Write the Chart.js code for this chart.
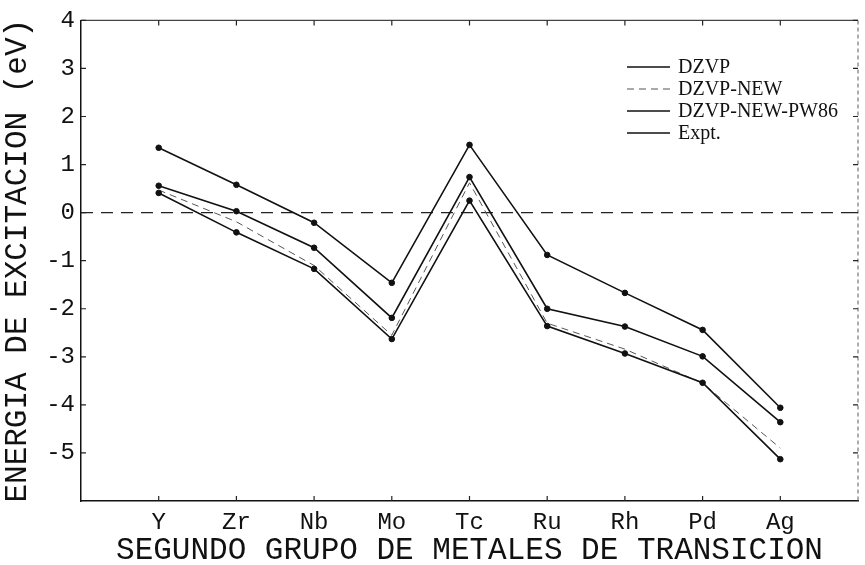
<!DOCTYPE html>
<html>
<head>
<meta charset="utf-8">
<script src="https://cdn.jsdelivr.net/npm/chart.js@4"></script>
<style>
  body { margin: 0; background: #fff; }
  canvas { display: block; }
</style>
</head>
<body>
<canvas id="chart" width="865" height="565"></canvas>
<script>
const elements = ["Y", "Zr", "Nb", "Mo", "Tc", "Ru", "Rh", "Pd", "Ag"];
const dzvp = [0.41, -0.41, -1.17, -2.63, 0.25, -2.36, -2.93, -3.54, -5.13];
const dzvpNew = [0.47, -0.19, -1.10, -2.55, 0.62, -2.30, -2.84, -3.55, -4.90];
const dzvpNewPw86 = [0.56, 0.03, -0.73, -2.19, 0.74, -2.00, -2.37, -2.99, -4.36];
const expt = [1.35, 0.58, -0.21, -1.46, 1.41, -0.88, -1.67, -2.44, -4.06];
const yTicks = [4, 3, 2, 1, 0, -1, -2, -3, -4, -5];

const toPoints = (arr) => arr.map((v, i) => ({ x: i + 1, y: v }));

const solid = (label, values) => ({
  label: label,
  data: toPoints(values),
  borderColor: "#111",
  backgroundColor: "#111",
  borderWidth: 1.6,
  pointRadius: 2.8,
  pointBorderWidth: 1,
  tension: 0
});

const datasets = [
  solid("DZVP", dzvp),
  {
    label: "DZVP-NEW",
    data: toPoints(dzvpNew),
    borderColor: "#555",
    backgroundColor: "#555",
    borderWidth: 1,
    borderDash: [7, 5],
    pointRadius: 0,
    tension: 0
  },
  solid("DZVP-NEW-PW86", dzvpNewPw86),
  solid("Expt.", expt),
  {
    label: "zero",
    data: [{ x: 0, y: 0 }, { x: 10, y: 0 }],
    borderColor: "#222",
    borderWidth: 1.3,
    borderDash: [12, 8],
    pointRadius: 0
  }
];

// inward tick marks, top/right frame and the legend inside the plot
const framePlugin = {
  id: "frame",
  afterDraw(chart) {
    const ctx = chart.ctx;
    const area = chart.chartArea;
    const xs = chart.scales.x;
    const ys = chart.scales.y;
    ctx.save();

    // top border
    ctx.strokeStyle = "#444";
    ctx.lineWidth = 1.2;
    ctx.beginPath();
    ctx.moveTo(area.left, area.top);
    ctx.lineTo(area.right, area.top);
    ctx.stroke();

    // right border, broken
    ctx.strokeStyle = "#777";
    ctx.setLineDash([4, 3]);
    ctx.beginPath();
    ctx.moveTo(area.right, area.top);
    ctx.lineTo(area.right, area.bottom);
    ctx.stroke();
    ctx.setLineDash([]);

    ctx.strokeStyle = "#222";
    ctx.lineWidth = 1.2;
    elements.forEach((name, i) => {
      const px = xs.getPixelForValue(i + 1);
      ctx.beginPath();
      ctx.moveTo(px, area.bottom);
      ctx.lineTo(px, area.bottom - 5);
      ctx.moveTo(px, area.top);
      ctx.lineTo(px, area.top + 5);
      ctx.stroke();
    });
    yTicks.forEach((v) => {
      const py = ys.getPixelForValue(v);
      ctx.beginPath();
      ctx.moveTo(area.left, py);
      ctx.lineTo(area.left + 5, py);
      ctx.moveTo(area.right, py);
      ctx.lineTo(area.right - 5, py);
      ctx.stroke();
    });

    // legend
    ctx.font = "20px 'Liberation Serif'";
    ctx.textBaseline = "middle";
    ctx.fillStyle = "#111";
    datasets.slice(0, 4).forEach((ds, i) => {
      const y = 67 + i * 22;
      ctx.strokeStyle = ds.borderColor;
      ctx.lineWidth = ds.borderWidth;
      ctx.setLineDash(ds.borderDash || []);
      ctx.beginPath();
      ctx.moveTo(627, y);
      ctx.lineTo(670, y);
      ctx.stroke();
      ctx.setLineDash([]);
      ctx.fillText(ds.label, 678, y + 1);
    });
    ctx.restore();
  }
};

new Chart(document.getElementById("chart"), {
  type: "line",
  data: { datasets: datasets },
  options: {
    responsive: false,
    animation: false,
    devicePixelRatio: 1,
    layout: { padding: { top: 15, right: 7, left: 0, bottom: 0 } },
    plugins: {
      legend: { display: false },
      tooltip: { enabled: false }
    },
    scales: {
      x: {
        type: "linear",
        min: 0,
        max: 10,
        afterFit: (s) => { s.height = 64; },
        grid: { display: true, drawOnChartArea: false, drawTicks: false },
        border: { display: true, color: "#111", width: 1.5 },
        ticks: {
          stepSize: 1,
          autoSkip: false,
          maxRotation: 0,
          padding: 7,
          color: "#111",
          font: { family: "Liberation Mono", size: 24 },
          callback: (v) => elements[v - 1] || ""
        },
        title: {
          display: true,
          text: "SEGUNDO GRUPO DE METALES DE TRANSICION",
          color: "#111",
          font: { family: "Liberation Mono", size: 31, lineHeight: 0.9 },
          padding: { top: 0, bottom: 0 }
        }
      },
      y: {
        min: -6,
        max: 4,
        afterFit: (s) => { s.width = 81; },
        grid: { display: true, drawOnChartArea: false, drawTicks: false },
        border: { display: true, color: "#111", width: 1.5 },
        ticks: {
          stepSize: 1,
          padding: 6,
          color: "#111",
          font: { family: "Liberation Mono", size: 24 },
          callback: (v) => (yTicks.includes(v) ? String(v) : "")
        },
        title: {
          display: true,
          text: "ENERGIA DE EXCITACION (eV)",
          color: "#111",
          font: { family: "Liberation Mono", size: 31, lineHeight: 1.05 },
          padding: { top: 2, bottom: 0 }
        }
      }
    }
  },
  plugins: [framePlugin]
});
</script>
</body>
</html>
